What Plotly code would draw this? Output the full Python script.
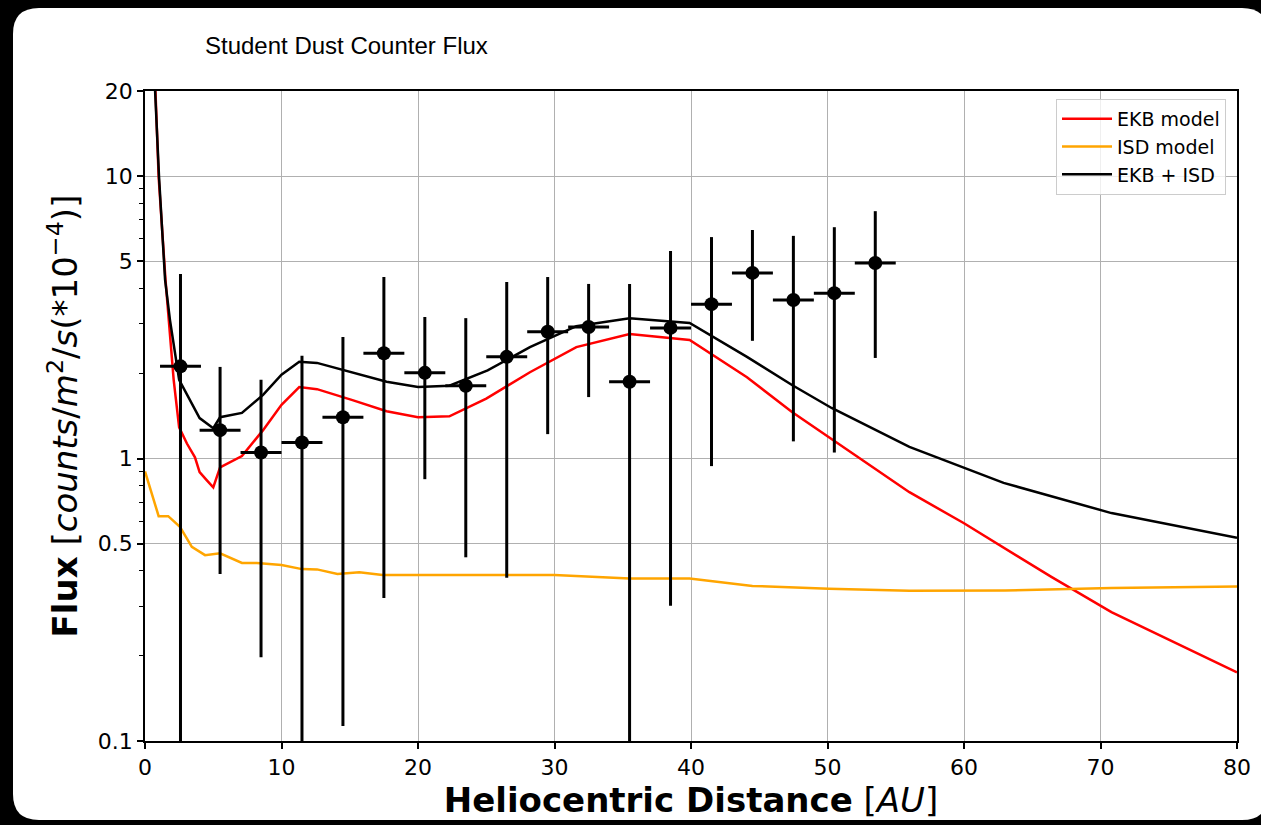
import plotly.graph_objects as go

# ---------------- data ----------------
x_ekb = [0.75, 1.0, 1.5, 2.1, 2.5, 3.07, 3.66, 4.0, 4.5, 5.0, 5.5, 7.1, 8.65, 10.0, 11.3,
         12.6, 15.2, 17.7, 20.0, 22.3, 25.0, 28.2, 31.6, 35.5, 39.9, 44.1, 47.4, 50.4,
         56.0, 60.0, 66.4, 70.8, 80.0]
y_ekb = [21.0, 9.9, 4.3, 1.9, 1.29, 1.13, 1.01, 0.895, 0.84, 0.79, 0.93, 1.02, 1.26, 1.55, 1.79,
         1.76, 1.61, 1.47, 1.40, 1.41, 1.63, 2.02, 2.48, 2.76, 2.63, 1.94, 1.46, 1.16,
         0.76, 0.59, 0.381, 0.286, 0.175]

x_isd = [0.0, 1.0, 1.7, 2.56, 3.43, 4.4, 5.5, 7.1, 8.2, 10.0, 11.5, 12.6, 14.1, 15.7, 17.4,
         20.0, 25.0, 30.0, 35.5, 39.9, 44.5, 50.1, 56.0, 63.0, 70.8, 80.0]
y_isd = [0.90, 0.625, 0.625, 0.573, 0.487, 0.455, 0.462, 0.427, 0.427, 0.42, 0.406, 0.405, 0.390,
         0.396, 0.387, 0.387, 0.388, 0.387, 0.376, 0.376, 0.354, 0.346, 0.340, 0.341, 0.348, 0.352]

x_sum = [0.73, 1.03, 1.47, 1.83, 2.5, 3.3, 4.0, 5.0, 5.5, 7.1, 8.65, 10.0, 11.3, 12.6, 15.2,
         17.7, 20.0, 22.3, 25.1, 28.2, 31.6, 35.5, 39.9, 44.1, 47.4, 50.3, 56.0, 62.9, 70.8, 80.0]
y_sum = [20.5, 9.9, 4.3, 3.09, 1.90, 1.61, 1.39, 1.28, 1.40, 1.45, 1.68, 1.98, 2.20, 2.18, 2.01,
         1.87, 1.79, 1.81, 2.05, 2.48, 2.94, 3.14, 3.02, 2.29, 1.82, 1.51, 1.10, 0.82, 0.641, 0.524]

x_obs = [2.6, 5.5, 8.5, 11.5, 14.5, 17.5, 20.5, 23.5, 26.5, 29.5, 32.5, 35.5, 38.5,
         41.5, 44.5, 47.5, 50.5, 53.5]
x_halfwidth = [1.5] * len(x_obs)
flux_obs = [2.12, 1.26, 1.05, 1.14, 1.40, 2.36, 2.01, 1.81, 2.29, 2.81, 2.92, 1.87, 2.90,
            3.52, 4.54, 3.64, 3.85, 4.92]
flux_upper = [4.5, 2.11, 1.90, 2.31, 2.69, 4.39, 3.17, 3.14, 4.22, 4.39, 4.15, 4.15, 5.43,
              6.08, 6.44, 6.14, 6.59, 7.51]
# lower ends; 0.01 marks bars that run off the bottom of the axis
flux_lower = [0.01, 0.39, 0.198, 0.01, 0.113, 0.321, 0.845, 0.447, 0.378, 1.22, 1.65, 0.01,
              0.301, 0.94, 2.61, 1.15, 1.05, 2.27]

y_tickvals = [0.1, 0.5, 1, 5, 10, 20]
y_ticktext = ["0.1", "0.5", "1", "5", "10", "20"]
y_minor = [0.2, 0.3, 0.4, 0.6, 0.7, 0.8, 0.9, 2, 3, 4, 6, 7, 8, 9]
x_tickvals = [0, 10, 20, 30, 40, 50, 60, 70, 80]

# ---------------- layout geometry ----------------
W, H = 1261, 825
ML, MR, MT, MB = 145, 24, 91, 84
PW, PH = W - ML - MR, H - MT - MB


def P(px, py):
    return f"{(px - ML) / PW:.5f},{(H - MB - py) / PH:.5f}"


cl, ct, cr, cb, rad = 13, 8, 1268, 820, 26
card = (f"M {P(cl + rad, ct)} L {P(cr - rad, ct)} Q {P(cr, ct)} {P(cr, ct + rad)} "
        f"L {P(cr, cb - rad)} Q {P(cr, cb)} {P(cr - rad, cb)} "
        f"L {P(cl + rad, cb)} Q {P(cl, cb)} {P(cl, cb - rad)} "
        f"L {P(cl, ct + rad)} Q {P(cl, ct)} {P(cl + rad, ct)} Z")

FONT = "DejaVu Sans"

fig = go.Figure()

fig.add_trace(go.Scatter(x=x_ekb, y=y_ekb, mode="lines", name="EKB model",
                         line=dict(color="#ff0000", width=2.5)))
fig.add_trace(go.Scatter(x=x_isd, y=y_isd, mode="lines", name="ISD model",
                         line=dict(color="#ffa500", width=2.5)))
fig.add_trace(go.Scatter(x=x_sum, y=y_sum, mode="lines", name="EKB + ISD",
                         line=dict(color="black", width=2.5)))

err_plus = [u - f for u, f in zip(flux_upper, flux_obs)]
err_minus = [f - l for f, l in zip(flux_obs, flux_lower)]
fig.add_trace(go.Scatter(
    x=x_obs, y=flux_obs, mode="markers", showlegend=False,
    marker=dict(color="black", size=14),
    error_y=dict(type="data", symmetric=False, array=err_plus, arrayminus=err_minus,
                 color="black", thickness=3, width=0),
    error_x=dict(type="data", array=x_halfwidth, color="black", thickness=3, width=0),
))

fig.update_layout(
    width=W, height=H,
    margin=dict(l=ML, r=MR, t=MT, b=MB, autoexpand=False),
    paper_bgcolor="black",
    plot_bgcolor="white",
    shapes=[dict(type="path", xref="paper", yref="paper", path=card,
                 fillcolor="white", line=dict(width=0), layer="below")],
    title=dict(text="Student Dust Counter Flux", x=(205 - ML) / PW, xref="paper", xanchor="left",
               y=1 - 46 / H, yref="container", yanchor="middle",
               font=dict(family="Liberation Sans, Arial", size=24, color="black")),
    showlegend=True,
    legend=dict(x=(1226 - ML) / PW, xanchor="right", y=(H - MB - 99) / PH, yanchor="top",
                bgcolor="rgba(255,255,255,0.8)", bordercolor="#cccccc", borderwidth=1,
                font=dict(family=FONT, size=19, color="black"),
                tracegroupgap=0, itemwidth=50),
    xaxis=dict(
        range=[0, 80], tickvals=x_tickvals, showgrid=True, gridcolor="#b0b0b0", gridwidth=1,
        zeroline=False, showline=True, linecolor="black", linewidth=1.5, mirror=True,
        ticks="outside", ticklen=6, tickwidth=1.5, tickcolor="black",
        tickfont=dict(family=FONT, size=22, color="black"),
        title=dict(text="<b>Heliocentric Distance</b> [<i>AU</i>]",
                   font=dict(family=FONT, size=34, color="black"), standoff=8),
        automargin=False,
    ),
    yaxis=dict(
        type="log", range=[-1, 1.30103], tickvals=y_tickvals, ticktext=y_ticktext,
        showgrid=True, gridcolor="#b0b0b0", gridwidth=1, zeroline=False,
        showline=True, linecolor="black", linewidth=1.5, mirror=True,
        ticks="outside", ticklen=6, tickwidth=1.5, tickcolor="black",
        tickfont=dict(family=FONT, size=22, color="black"),
        minor=dict(tickvals=y_minor, ticks="outside", ticklen=4, tickwidth=1,
                   tickcolor="black", showgrid=False),
        title=dict(text="<b>Flux</b> [<i>counts</i>/<i>m</i><sup>2</sup>/<i>s</i>(*10<sup>\u22124</sup>)]",
                   font=dict(family=FONT, size=34, color="black"), standoff=10),
        automargin=False,
    ),
)

fig.write_html("out.html")
